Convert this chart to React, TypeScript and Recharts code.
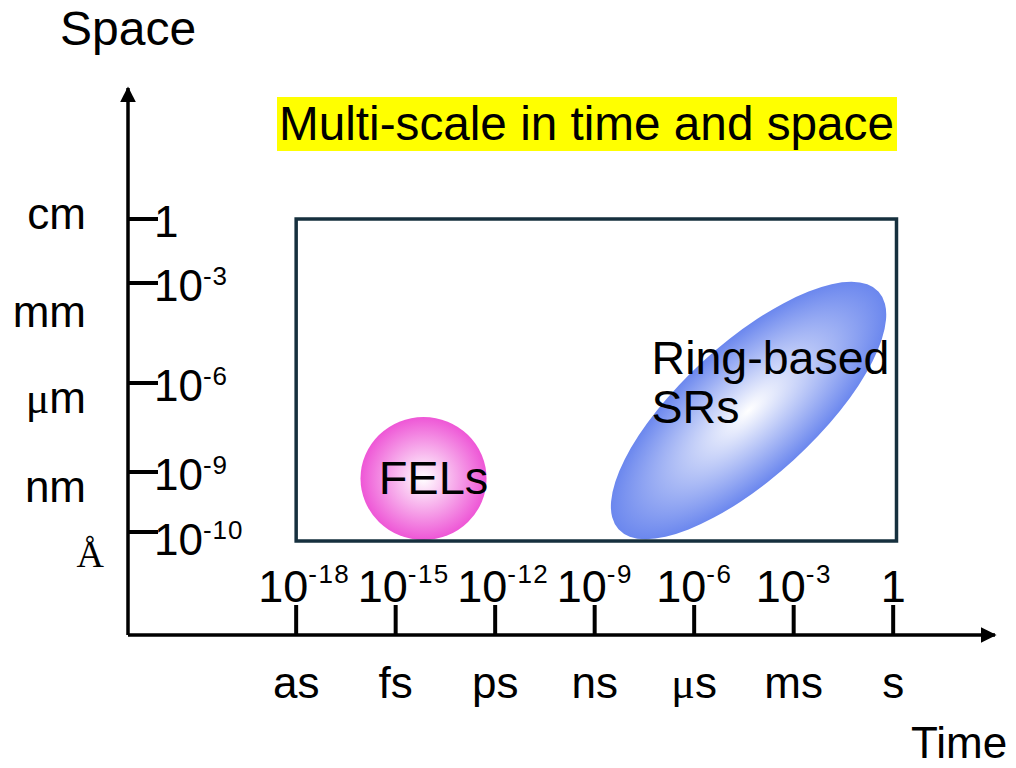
import React from 'react';
import { ComposedChart, XAxis, YAxis, ReferenceArea } from 'recharts';

// ---- data ----
const timeExponents = [-18, -15, -12, -9, -6, -3, 0];
const timeUnits = ['as', 'fs', 'ps', 'ns', 'μs', 'ms', 's'];

const spaceExponents = [0, -3, -6, -9, -10];
const spaceTickLevels = [41.6, 35.2, 25.2, 16.3, 10.3];
const spaceUnits = ['cm', 'mm', 'μm', 'nm', 'Å'];
const spaceUnitLevels = [40.6, 30.8, 22.2, 13.3, 6.8];

const boxTime = [-18, 0.1];
const boxLevel = [9.4, 41.6];

const sourceNames = ['FELs', 'Ring-based SRs'];
const sourceTimeCenter = [-14.16, -4.36];
const sourceTimeHalf = [1.9, 5.31];
const sourceLevelCenter = [15.65, 22.45];
const sourceLevelHalf = [6.15, 6.7];
const sourceTilt = [0, 42.4];
const sourceGradients = ['felGrad', 'srGrad'];

// ---- layout ----
const W = 1016;
const H = 768;
const PLOT_LEFT = 128;
const PLOT_TOP = 88;
const PLOT_RIGHT = 995;
const PLOT_BOTTOM = 635;
const FONT = '"Liberation Sans", Arial, sans-serif';
const SERIF = '"Liberation Serif", "Times New Roman", serif';

const withMu = (s: string) =>
  s.startsWith('μ') ? (
    <>
      <tspan fontFamily={SERIF}>μ</tspan>
      {s.slice(1)}
    </>
  ) : (
    s
  );

const XTick = (props: any) => {
  const { x, payload } = props;
  const i = timeExponents.indexOf(payload.value);
  if (i < 0) return null;
  const e = timeExponents[i];
  return (
    <g>
      <line x1={x} x2={x} y1={PLOT_BOTTOM - 30} y2={PLOT_BOTTOM} stroke="#000" strokeWidth={4} />
      {e === 0 ? (
        <text x={x} y={PLOT_BOTTOM - 33} textAnchor="middle" fontSize={45} fontFamily={FONT} fill="#000">
          1
        </text>
      ) : (
        <text x={x - 38} y={PLOT_BOTTOM - 33} textAnchor="start" fontSize={45} fontFamily={FONT} fill="#000">
          10
          <tspan dy={-19} fontSize={26} letterSpacing={1.5}>{'-' + -e}</tspan>
        </text>
      )}
      <text x={x} y={PLOT_BOTTOM + 63} textAnchor="middle" fontSize={44} fontFamily={FONT} fill="#000">
        {withMu(timeUnits[i])}
      </text>
    </g>
  );
};

const YTick = (props: any) => {
  const { y, payload } = props;
  const i = spaceTickLevels.indexOf(payload.value);
  if (i < 0) return null;
  const e = spaceExponents[i];
  return (
    <g>
      <line x1={PLOT_LEFT} x2={PLOT_LEFT + 30} y1={y} y2={y} stroke="#000" strokeWidth={4} />
      <text x={PLOT_LEFT + 26} y={y + (e === -10 ? 23 : 18)} fontSize={44} fontFamily={FONT} fill="#000">
        {e === 0 ? '1' : (
          <>
            10
            <tspan dy={-16} fontSize={26} letterSpacing={1}>{'-' + -e}</tspan>
          </>
        )}
      </text>
    </g>
  );
};

const UnitTick = (props: any) => {
  const { y, payload } = props;
  const i = spaceUnitLevels.indexOf(payload.value);
  if (i < 0) return null;
  const u = spaceUnits[i];
  if (u === 'Å') {
    return (
      <text x={104} y={y} textAnchor="end" fontSize={38} fontFamily={SERIF} fill="#000">
        {u}
      </text>
    );
  }
  return (
    <text x={86} y={y} textAnchor="end" fontSize={44} fontFamily={FONT} fill="#000">
      {withMu(u)}
    </text>
  );
};

const makeSourceShape = (i: number) => (p: any) => {
  const { x, y, width, height } = p;
  const cx = x + width / 2;
  const cy = y + height / 2;
  return (
    <g>
      <ellipse
        cx={cx}
        cy={cy}
        rx={width / 2}
        ry={height / 2}
        fill={`url(#${sourceGradients[i]})`}
        transform={`rotate(${-sourceTilt[i]} ${cx} ${cy})`}
      />
      {i === 0 ? (
        <text x={cx + 10} y={cy + 15} textAnchor="middle" fontSize={47} fontFamily={FONT} fill="#000">
          {sourceNames[i]}
        </text>
      ) : (
        <text x={cx - 97} y={cy - 37} fontSize={46.5} fontFamily={FONT} fill="#000">
          <tspan x={cx - 97}>{sourceNames[i].split(' ')[0]}</tspan>
          <tspan x={cx - 97} dy={49}>{sourceNames[i].split(' ')[1]}</tspan>
        </text>
      )}
    </g>
  );
};

const BoxShape = (p: any) => (
  <rect x={p.x} y={p.y} width={p.width} height={p.height} fill="none" stroke="#16303e" strokeWidth={3.5} />
);

export default function App() {
  return (
    <div style={{ position: 'absolute', left: 0, top: 0, width: W, height: H, background: '#fff' }}>
      <svg width={0} height={0} style={{ position: 'absolute' }}>
        <defs>
          <radialGradient id="felGrad" cx="50%" cy="50%" r="50%">
            <stop offset="0%" stopColor="#ffffff" />
            <stop offset="100%" stopColor="#ee56d6" />
          </radialGradient>
          <radialGradient id="srGrad" cx="50%" cy="50%" r="50%">
            <stop offset="0%" stopColor="#ffffff" />
            <stop offset="100%" stopColor="#6b87ee" />
          </radialGradient>
          <marker
            id="arrowHead"
            viewBox="0 0 10 10"
            refX={9}
            refY={5}
            markerWidth={16}
            markerHeight={16}
            markerUnits="userSpaceOnUse"
            orient="auto-start-reverse"
          >
            <path d="M0,0 L10,5 L0,10 z" fill="#000" />
          </marker>
        </defs>
      </svg>
      <ComposedChart
        width={W}
        height={H}
        data={[]}
        margin={{ left: PLOT_LEFT - 1, top: PLOT_TOP, right: W - PLOT_RIGHT - 1, bottom: H - PLOT_BOTTOM - 1 }}
      >
        <XAxis
          type="number"
          dataKey="t"
          domain={[-23.07, 3.07]}
          ticks={timeExponents}
          interval={0}
          height={1}
          tickLine={false}
          tick={<XTick />}
          axisLine={{ stroke: '#000', strokeWidth: 3.5, markerEnd: 'url(#arrowHead)' }}
          allowDataOverflow
        />
        <YAxis
          yAxisId="lvl"
          type="number"
          dataKey="s"
          domain={[0, 54.7]}
          ticks={spaceTickLevels}
          interval={0}
          width={1}
          tickLine={false}
          tick={<YTick />}
          axisLine={{ stroke: '#000', strokeWidth: 3.5, markerStart: 'url(#arrowHead)' }}
          allowDataOverflow
        />
        <YAxis
          yAxisId="unit"
          orientation="right"
          type="number"
          domain={[0, 54.7]}
          ticks={spaceUnitLevels}
          interval={0}
          width={1}
          tickLine={false}
          axisLine={false}
          tick={<UnitTick />}
          allowDataOverflow
        />
        {sourceNames.map((n, i) => (
          <ReferenceArea
            key={n}
            yAxisId="lvl"
            x1={sourceTimeCenter[i] - sourceTimeHalf[i]}
            x2={sourceTimeCenter[i] + sourceTimeHalf[i]}
            y1={sourceLevelCenter[i] - sourceLevelHalf[i]}
            y2={sourceLevelCenter[i] + sourceLevelHalf[i]}
            shape={makeSourceShape(i)}
            ifOverflow="visible"
          />
        ))}
        <ReferenceArea
          yAxisId="lvl"
          x1={boxTime[0]}
          x2={boxTime[1]}
          y1={boxLevel[0]}
          y2={boxLevel[1]}
          shape={BoxShape}
          ifOverflow="visible"
        />
      </ComposedChart>
      <svg
        width={W}
        height={H}
        style={{ position: 'absolute', left: 0, top: 0, pointerEvents: 'none' }}
      >
        <text x={60} y={45} fontSize={48} fontFamily={FONT} fill="#000">Space</text>
        <text x={911} y={758} fontSize={44} fontFamily={FONT} fill="#000">Time</text>
        <rect x={277} y={97} width={620} height={54} fill="#ffff00" />
        <text x={279} y={140} fontSize={47.7} fontFamily={FONT} fill="#000">Multi-scale in time and space</text>
      </svg>
    </div>
  );
}
